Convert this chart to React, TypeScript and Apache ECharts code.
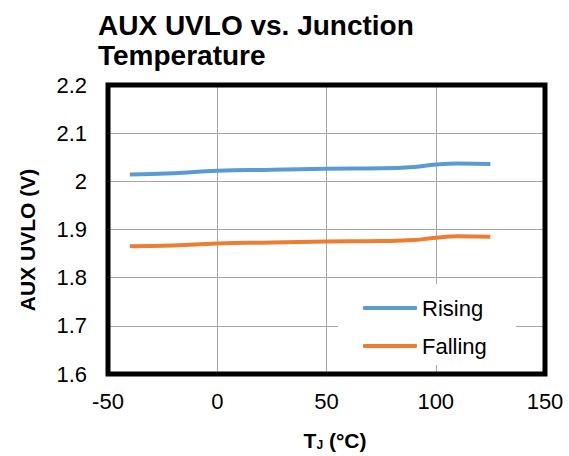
import React, { useEffect, useRef } from "react";
import * as echarts from "echarts";

const temps = [-40, -20, 0, 25, 50, 75, 90, 100, 110, 125];
const rising = [2.014, 2.017, 2.022, 2.024, 2.026, 2.027, 2.03, 2.035, 2.037, 2.036];
const falling = [1.865, 1.867, 1.871, 1.873, 1.875, 1.876, 1.878, 1.883, 1.886, 1.885];
const seriesNames = ["Rising", "Falling"];
const colors = ["#5b9bd5", "#ed7d31"];
const titleText = "AUX UVLO vs. Junction\nTemperature";
const yName = "AUX UVLO (V)";

export default function App() {
  const ref = useRef<HTMLDivElement>(null);
  useEffect(() => {
    const chart = echarts.init(ref.current!, null, { renderer: "svg" });
    const font = "Arial, 'Liberation Sans', sans-serif";
    chart.setOption({
      animation: false,
      title: {
        text: titleText,
        left: 98,
        top: 10,
        padding: 0,
        textStyle: { fontFamily: font, fontWeight: "bold", fontSize: 28, lineHeight: 30, color: "#000" },
      },
      grid: {
        left: 108,
        right: 24,
        top: 85,
        bottom: 73,
        show: true,
        borderColor: "#000",
        borderWidth: 5,
        z: 10,
      },
      legend: {
        data: seriesNames,
        orient: "vertical",
        left: 338,
        top: 284,
        backgroundColor: "#fff",
        padding: [13, 29, 8, 25],
        itemGap: 16,
        itemWidth: 54,
        itemHeight: 4,
        icon: "roundRect",
        textStyle: { fontFamily: font, fontSize: 22, color: "#000" },
      },
      graphic: [
        {
          type: "text",
          rotation: Math.PI / 2,
          x: 27,
          y: 240,
          style: {
            text: yName,
            x: 0,
            y: 0,
            align: "center",
            verticalAlign: "middle",
            fontFamily: font,
            fontWeight: "bold",
            fontSize: 21,
            fill: "#000",
          },
        },
      ],
      xAxis: {
        type: "value",
        min: -50,
        max: 150,
        interval: 50,
        axisLine: { show: false },
        axisTick: { show: false },
        splitLine: { show: true, showMinLine: false, showMaxLine: false, lineStyle: { color: "#a6a6a6", width: 1 } },
        axisLabel: { fontFamily: font, fontSize: 22, color: "#000", margin: 16 },
        name: "{b|T}{s|J}{b| (°C)}",
        nameLocation: "middle",
        nameGap: 56,
        nameTextStyle: {
          padding: [0, 0, 0, 17],
          rich: {
            b: { fontFamily: font, fontWeight: "bold", fontSize: 21, color: "#000" },
            s: { fontFamily: font, fontWeight: "bold", fontSize: 12, color: "#000", verticalAlign: "bottom", padding: [9, 0, 0, 0] },
          },
        },
      },
      yAxis: {
        type: "value",
        min: 1.6,
        max: 2.2,
        interval: 0.1,
        axisLine: { show: false },
        axisTick: { show: false },
        splitLine: { show: true, showMinLine: false, showMaxLine: false, lineStyle: { color: "#a6a6a6", width: 1 } },
        axisLabel: {
          fontFamily: font,
          fontSize: 22,
          color: "#000",
          margin: 21,
          formatter: (v: number) => String(Math.round(v * 10) / 10),
        },
      },
      series: [
        {
          name: seriesNames[0],
          type: "line",
          data: temps.map((t, i) => [t, rising[i]]),
          smooth: true,
          showSymbol: false,
          symbol: "none",
          itemStyle: { color: colors[0] },
          lineStyle: { color: colors[0], width: 4 },
        },
        {
          name: seriesNames[1],
          type: "line",
          data: temps.map((t, i) => [t, falling[i]]),
          smooth: true,
          showSymbol: false,
          symbol: "none",
          itemStyle: { color: colors[1] },
          lineStyle: { color: colors[1], width: 4 },
        },
      ],
    });
    return () => chart.dispose();
  }, []);
  return <div ref={ref} style={{ position: "absolute", left: 0, top: 0, width: 569, height: 456 }} />;
}
